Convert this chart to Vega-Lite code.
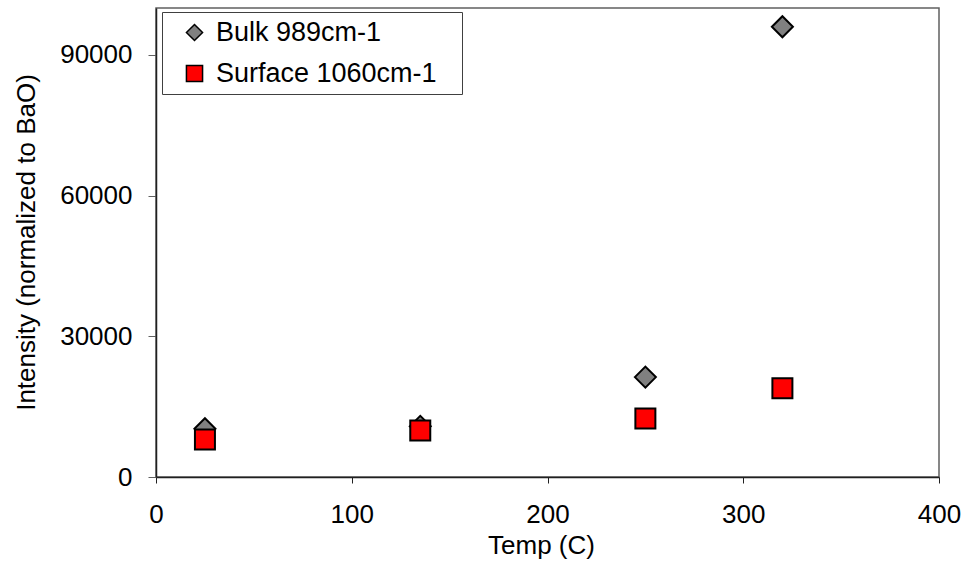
{
  "$schema": "https://vega.github.io/schema/vega-lite/v6.json",
  "width": 783,
  "height": 469,
  "autosize": {"type": "none"},
  "padding": {"left": 156, "top": 8, "right": 40, "bottom": 89},
  "background": "white",
  "config": {
    "font": "Liberation Sans",
    "view": {"stroke": "#606060", "strokeWidth": 1.5},
    "axis": {"grid": false}
  },
  "data": {
    "values": [
      {"series": "Bulk 989cm-1", "temp": 25, "intensity": 10300},
      {"series": "Bulk 989cm-1", "temp": 135, "intensity": 10800},
      {"series": "Bulk 989cm-1", "temp": 250, "intensity": 21300},
      {"series": "Bulk 989cm-1", "temp": 320, "intensity": 96000},
      {"series": "Surface 1060cm-1", "temp": 25, "intensity": 8000},
      {"series": "Surface 1060cm-1", "temp": 135, "intensity": 9900},
      {"series": "Surface 1060cm-1", "temp": 250, "intensity": 12500},
      {"series": "Surface 1060cm-1", "temp": 320, "intensity": 18900}
    ]
  },
  "encoding": {
    "x": {
      "field": "temp",
      "type": "quantitative",
      "scale": {"domain": [0, 400], "nice": false, "zero": false},
      "axis": {
        "values": [0, 100, 200, 300, 400],
        "title": "Temp (C)",
        "domainColor": "#202020",
        "domainWidth": 1.5,
        "tickColor": "#202020",
        "tickSize": 6,
        "labelFontSize": 26,
        "labelColor": "black",
        "labelPadding": 18,
        "labelFlush": false,
        "titleFontSize": 26,
        "titleFontWeight": "normal",
        "titleColor": "black",
        "titleX": 385,
        "titleY": 76,
        "titleBaseline": "alphabetic",
        "titleAlign": "center"
      }
    },
    "y": {
      "field": "intensity",
      "type": "quantitative",
      "scale": {"domain": [0, 100000], "nice": false},
      "axis": {
        "values": [0, 30000, 60000, 90000],
        "format": "d",
        "title": "Intensity (normalized to BaO)",
        "domainColor": "#202020",
        "domainWidth": 1.5,
        "tickColor": "#606060",
        "tickSize": 8,
        "labelFontSize": 26,
        "labelColor": "black",
        "labelPadding": 16,
        "labelFlush": false,
        "titleFontSize": 26,
        "titleFontWeight": "normal",
        "titleColor": "black",
        "titleAngle": -90,
        "titleX": -130,
        "titleY": 234,
        "titleBaseline": "middle",
        "titleAlign": "center"
      }
    },
    "shape": {
      "field": "series",
      "type": "nominal",
      "scale": {"domain": ["Bulk 989cm-1", "Surface 1060cm-1"], "range": ["diamond", "square"]},
      "legend": {
        "title": " ",
        "titleOrient": "right",
        "titleFontSize": 10,
        "titlePadding": 18,
        "orient": "none",
        "legendX": 6,
        "legendY": 4,
        "fillColor": "white",
        "strokeColor": "#404040",
        "padding": 7,
        "symbolOffset": 12,
        "symbolSize": 260,
        "labelFontSize": 27,
        "labelColor": "black",
        "labelOffset": 8,
        "labelLimit": 320,
        "rowPadding": 13,
        "encode": {
          "symbols": {
            "update": {
              "stroke": {"value": "black"},
              "strokeWidth": {"value": 2}
            }
          }
        }
      }
    },
    "fill": {
      "field": "series",
      "type": "nominal",
      "scale": {"domain": ["Bulk 989cm-1", "Surface 1060cm-1"], "range": ["#808080", "#ff0000"]}
    }
  },
  "layer": [
    {
      "transform": [{"filter": "datum.series === 'Bulk 989cm-1'"}],
      "mark": {"type": "point", "filled": true, "opacity": 1, "stroke": "black", "strokeWidth": 2, "size": 441}
    },
    {
      "transform": [{"filter": "datum.series === 'Surface 1060cm-1'"}],
      "mark": {"type": "point", "filled": true, "opacity": 1, "stroke": "black", "strokeWidth": 2, "size": 400}
    }
  ]
}
